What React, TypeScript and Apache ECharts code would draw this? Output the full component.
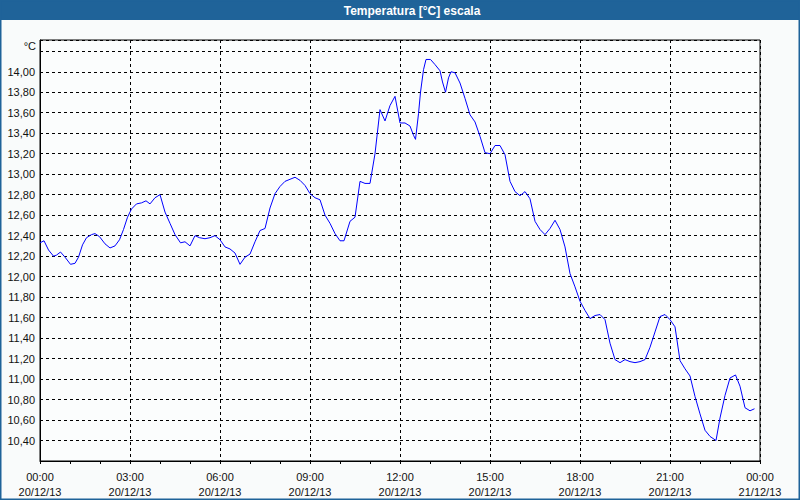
import React, { useEffect, useRef } from "react";
import * as echarts from "echarts";

const chartTitle = "Temperatura [°C] escala";
const yUnit = "°C";

const times = [
  "00:00","00:08","00:17","00:27","00:33","00:41","00:50","01:01","01:10","01:17","01:25","01:33","01:43","01:50","01:59",
  "02:10","02:20","02:30","02:39","02:47","02:55","03:03","03:13","03:23","03:32","03:40","03:50","04:00",
  "04:10","04:20","04:30","04:41","04:50","05:00","05:10","05:19","05:30","05:40","05:50","06:00",
  "06:10","06:20","06:30","06:40","06:50","07:00","07:10","07:20","07:30","07:40","07:50","08:00",
  "08:10","08:20","08:30","08:40","08:50","09:00","09:10","09:20","09:30","09:40","09:50","10:00",
  "10:08","10:20","10:30","10:40","10:50","11:00","11:10","11:20","11:30","11:40","11:50","12:00",
  "12:10","12:20","12:27","12:31","12:37","12:41","12:47","12:52","13:01","13:10","13:20","13:25",
  "13:31","13:37","13:42","13:50","14:00","14:10","14:20","14:30","14:40","14:50","15:00",
  "15:10","15:20","15:30","15:40","15:50","16:00","16:10","16:20","16:30","16:40","16:50","17:00",
  "17:10","17:20","17:30","17:40","17:50","18:00","18:10","18:20","18:30","18:40","18:50","19:00",
  "19:10","19:20","19:30","19:40","19:50","20:00","20:10","20:20","20:30","20:40","20:50","21:00",
  "21:10","21:20","21:30","21:40","21:50","22:00","22:10","22:20","22:32","22:40","22:50","23:00",
  "23:11","23:20","23:30","23:40","23:49"
];

const temps = [
  12.33,12.35,12.26,12.20,12.21,12.24,12.19,12.12,12.13,12.19,12.31,12.38,12.41,12.42,12.39,
  12.32,12.28,12.30,12.36,12.46,12.58,12.66,12.71,12.72,12.74,12.71,12.77,12.80,
  12.63,12.52,12.41,12.33,12.34,12.30,12.40,12.38,12.37,12.38,12.40,12.36,
  12.29,12.27,12.23,12.12,12.19,12.22,12.34,12.45,12.47,12.67,12.81,12.88,
  12.93,12.95,12.97,12.94,12.89,12.81,12.77,12.75,12.60,12.52,12.42,12.35,
  12.35,12.54,12.58,12.93,12.91,12.91,13.20,13.63,13.52,13.67,13.76,13.50,
  13.50,13.47,13.38,13.34,13.59,13.80,14.02,14.12,14.12,14.07,14.01,13.90,
  13.80,13.94,14.00,13.99,13.89,13.74,13.58,13.51,13.37,13.21,13.20,
  13.28,13.28,13.19,12.93,12.83,12.79,12.83,12.76,12.54,12.46,12.41,12.47,
  12.55,12.46,12.29,12.03,11.90,11.76,11.67,11.59,11.62,11.63,11.58,11.35,
  11.19,11.16,11.19,11.17,11.16,11.17,11.19,11.31,11.46,11.61,11.63,11.58,
  11.51,11.18,11.10,11.03,10.83,10.66,10.50,10.44,10.40,10.62,10.84,11.01,
  11.04,10.93,10.72,10.69,10.71
];

const xTickTimes = ["00:00","03:00","06:00","09:00","12:00","15:00","18:00","21:00","00:00"];
const xTickDates = ["20/12/13","20/12/13","20/12/13","20/12/13","20/12/13","20/12/13","20/12/13","20/12/13","21/12/13"];

const toHours = (t: string) => {
  const [h, m] = t.split(":").map(Number);
  return h + m / 60;
};

export default function App() {
  const ref = useRef<HTMLDivElement>(null);
  useEffect(() => {
    if (!ref.current) return;
    const chart = echarts.init(ref.current, undefined, { renderer: "svg" });
    const font = "Liberation Sans";
    const data = times.map((t, i) => [toHours(t), temps[i]]);
    chart.setOption({
      animation: false,
      backgroundColor: "#f9fbfb",
      graphic: [
        { type: "rect", shape: { x: 0, y: 0, width: 800, height: 20 }, style: { fill: "#1f6399" }, silent: true },
        { type: "rect", shape: { x: 0.5, y: 0.5, width: 799, height: 499 }, style: { fill: "none", stroke: "#1f6399", lineWidth: 2 }, silent: true, z: 100 },
        { type: "text", x: 412, y: 11, style: { text: chartTitle, fill: "#ffffff", font: "bold 12px 'Liberation Sans'", align: "center", verticalAlign: "middle" }, silent: true },
        { type: "text", x: 36, y: 46, style: { text: yUnit, fill: "#111", font: `11px '${font}'`, align: "right", verticalAlign: "middle" }, silent: true },
      ],
      grid: {
        left: 40, right: 40, top: 40, bottom: 39,
        show: true, borderColor: "#000", borderWidth: 1, backgroundColor: "#fbfdfd",
      },
      xAxis: {
        type: "value", min: 0, max: 24, interval: 3,
        axisLine: { show: true, lineStyle: { color: "#000", width: 1 } },
        axisTick: { show: true, length: 3, lineStyle: { color: "#000" } },
        minorTick: { show: true, splitNumber: 3, length: 3, lineStyle: { color: "#000" } },
        splitLine: { show: true, lineStyle: { color: "#000", type: [3, 3], width: 1 } },
        axisLabel: {
          margin: 8, color: "#111", fontFamily: font, fontSize: 11, lineHeight: 15,
          formatter: (v: number) => {
            const i = Math.round(v / 3);
            return `${xTickTimes[i]}\n${xTickDates[i]}`;
          },
        },
      },
      yAxis: {
        type: "value", min: 10.2, max: 14.31, interval: 0.2,
        axisLine: { show: true, lineStyle: { color: "#000", width: 1 } },
        axisTick: { show: false },
        splitLine: { show: true, lineStyle: { color: "#000", type: [3, 3], width: 1 } },
        axisLabel: {
          margin: 5, color: "#111", fontFamily: font, fontSize: 11,
          formatter: (v: number) => (v < 10.3 || v > 14.1 ? "" : v.toFixed(2).replace(".", ",")),
        },
      },
      series: [
        {
          type: "line", data, showSymbol: false, symbol: "none",
          lineStyle: { color: "#0000ff", width: 1 },
        },
      ],
    });
    return () => chart.dispose();
  }, []);
  return <div ref={ref} style={{ position: "fixed", left: 0, top: 0, width: 800, height: 500 }} />;
}
